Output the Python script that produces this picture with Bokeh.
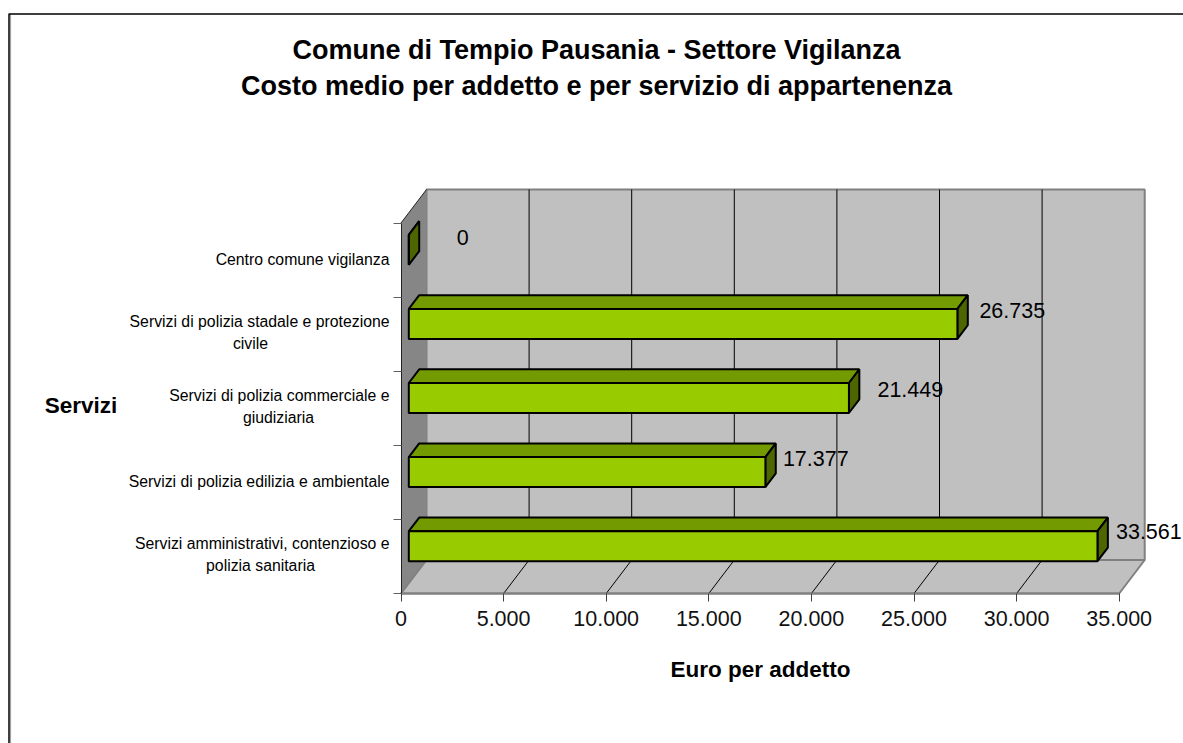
from bokeh.plotting import figure
from bokeh.models import BoxAnnotation, FixedTicker, Range1d, Label
from bokeh.embed import file_html
from bokeh.resources import INLINE

# ---- data (bottom to top) ----
categories = [
    ["Servizi amministrativi, contenzioso e", "polizia sanitaria"],
    ["Servizi di polizia edilizia e ambientale"],
    ["Servizi di polizia commerciale e", "giudiziaria"],
    ["Servizi di polizia stadale e protezione", "civile"],
    ["Centro comune vigilanza"],
]
values = [33561, 17377, 21449, 26735, 0]
x_ticks = [0, 5000, 10000, 15000, 20000, 25000, 30000, 35000]
title_lines = ["Comune di Tempio Pausania - Settore Vigilanza",
               "Costo medio per addetto e per servizio di appartenenza"]
x_title = "Euro per addetto"
y_title = "Servizi"

# ---- page geometry ----
W, H = 1183, 743
PAGE = 0
X0, X35 = 400.5, 1118.7      # page px of value 0 and 35000
Y0, Y5 = 593.0, 222.5        # page px of category edges 0 and 5
BACK_DX, BACK_DY = 25.5, 33.5
PXX = (X35 - X0) / 35000
PXY = (Y0 - Y5) / 5
DX = BACK_DX / PXX           # depth in data units
DY = BACK_DY / PXY
Z_FRONT, Z_BACK = 0.306, 0.714
BAR = 0.405                  # bar thickness in categories

def fx(px):
    return (px - X0) / PXX

def fy(py):
    return (Y0 - py) / PXY

FONT = "Liberation Sans"
p = figure(width=W, height=H, output_backend="svg", toolbar_location=None,
           x_range=Range1d(fx(PAGE), fx(PAGE + W)), y_range=Range1d(fy(PAGE + H), fy(PAGE)),
           min_border=0)
p.outline_line_color = None
p.grid.visible = False
p.background_fill_color = "white"

# axes, pinned at the origin of the plot volume
xa = p.xaxis[0]
xa.fixed_location = 0
xa.bounds = (0, 35000)
xa.ticker = FixedTicker(ticks=x_ticks)
xa.major_label_overrides = {t: f"{t:,}".replace(",", ".") for t in x_ticks}
xa.major_label_text_font = FONT
xa.major_label_text_font_size = "21.5px"
xa.major_label_text_color = "#111111"
xa.major_label_standoff = 9
xa.major_tick_out = 8
xa.major_tick_in = 0
xa.minor_tick_line_color = None
xa.major_tick_line_color = "#404040"
xa.axis_line_color = "#808080"
xa.axis_line_width = 2
xa.axis_label = x_title
xa.axis_label_text_font = FONT
xa.axis_label_text_font_style = "bold"
xa.axis_label_text_font_size = "22.5px"
xa.axis_label_text_color = "black"
xa.axis_label_standoff = 28

ya = p.yaxis[0]
ya.fixed_location = 0
ya.bounds = (0, 5)
ya.ticker = FixedTicker(ticks=list(range(6)))
ya.major_label_text_color = None
ya.major_tick_out = 8
ya.major_tick_in = 0
ya.minor_tick_line_color = None
ya.major_tick_line_color = "#606060"
ya.axis_line_color = "#222222"

# walls and floor
wall = "#C0C0C0"
edge = "#808080"
p.patch([DX, 35000 + DX, 35000 + DX, DX], [DY, DY, 5 + DY, 5 + DY],
        fill_color=wall, line_color=edge, line_width=2, level="underlay")
p.patch([0, DX, DX, 0], [0, DY, 5 + DY, 5], fill_color="#868686", line_color=None, level="underlay")
p.patch([0, 35000, 35000 + DX, DX], [0, 0, DY, DY], fill_color=wall, line_color=edge, line_width=2, level="underlay")
p.line([0, DX], [5, 5 + DY], line_color="#222222", line_width=1, level="underlay")

# grid lines on the back wall and floor
grid = x_ticks[1:-1]
p.segment(x0=[t + DX for t in grid], y0=[DY] * len(grid), x1=[t + DX for t in grid],
          y1=[5 + DY] * len(grid), line_color="black", line_width=1)
p.segment(x0=grid, y0=[0] * len(grid), x1=[t + DX for t in grid], y1=[DY] * len(grid),
          line_color="black", line_width=1)

# bars
fx0, fy0 = Z_FRONT * DX, Z_FRONT * DY
bx0, by0 = Z_BACK * DX, Z_BACK * DY
front_x, front_y, top_x, top_y, side_x, side_y = [], [], [], [], [], []
for i, v in enumerate(values):
    lo = i + 0.5 - BAR / 2
    hi = i + 0.5 + BAR / 2
    front_x.append([fx0, fx0 + v, fx0 + v, fx0])
    front_y.append([lo + fy0, lo + fy0, hi + fy0, hi + fy0])
    top_x.append([fx0, fx0 + v, bx0 + v, bx0])
    top_y.append([hi + fy0, hi + fy0, hi + by0, hi + by0])
    side_x.append([fx0 + v, bx0 + v, bx0 + v, fx0 + v])
    side_y.append([lo + fy0, lo + by0, hi + by0, hi + fy0])
lw = 2
p.patches(top_x, top_y, fill_color="#739A00", line_color="black", line_width=lw)
p.patches(side_x, side_y, fill_color="#4D6600", line_color="black", line_width=lw)
p.patches(front_x, front_y, fill_color="#99CC00", line_color="black", line_width=lw)

def text(px, py, s, size, align="center", bold=False):
    p.add_layout(Label(x=fx(px), y=fy(py), text=s, text_font=FONT, text_font_size=size,
                       text_align=align, text_baseline="middle", text_color="black",
                       text_font_style="bold" if bold else "normal"))

# value labels: offset of the text from the bar's front top-right corner
nudge_x = [18.5, 17.5, 28.5, 22, 48]
nudge_y = [0, 1, 7, 2, 3]
for i, v in enumerate(values):
    end = X0 + (v + fx0) * PXX
    cy = Y0 - (i + 0.5 + BAR / 2 + fy0) * PXY
    text(end + nudge_x[i], cy + nudge_y[i], f"{v:,}".replace(",", "."), "21.5px", "left")

# category labels
second_line_centre = [260, None, 278, 250, None]
for i, lines in enumerate(categories):
    cy = Y0 - (i + 0.5) * PXY
    if len(lines) > 1:
        text(389, cy - 12.8, lines[0], "15.8px", "right")
        text(second_line_centre[i], cy + 8.9, lines[1], "15.8px", "center")
    else:
        text(389, cy - 1, lines[0], "15.8px", "right")

text(596, 49, title_lines[0], "27px", bold=True)
text(596, 85.5, title_lines[1], "27px", bold=True)
text(80.5, 405, y_title, "22.5px", bold=True)

# chart-area border
p.line([fx(10), fx(10)], [fy(14), fy(743)], line_color="#A0A0A0", line_width=1.2)
p.add_layout(BoxAnnotation(left=fx(8.5), right=fx(1400), top=fy(13.5), bottom=fy(900),
                           fill_color=None, fill_alpha=0, line_color="black", line_alpha=1,
                           line_width=1.5))

open("out.html", "w").write(file_html(p, INLINE))
